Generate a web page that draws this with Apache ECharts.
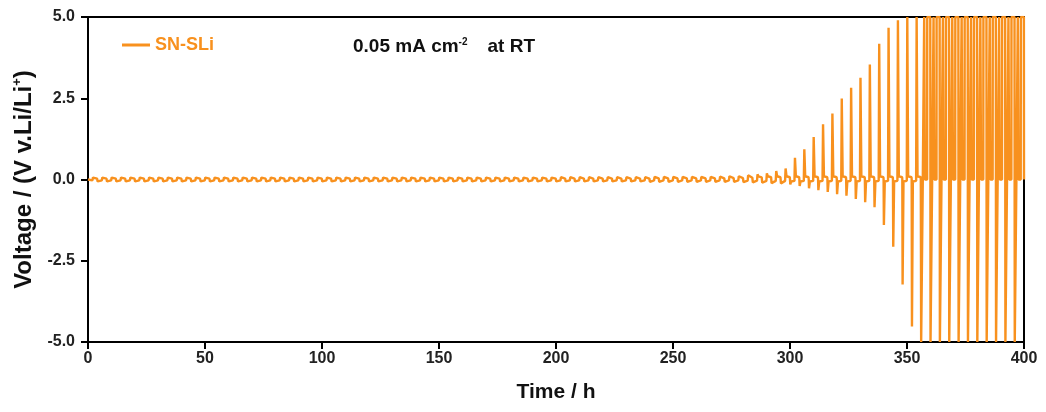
<!DOCTYPE html>
<html>
<head>
<meta charset="utf-8">
<script src="https://cdn.jsdelivr.net/npm/echarts@6/dist/echarts.min.js"></script>
<style>
html,body{margin:0;padding:0;background:#fff;}
#chart{width:1046px;height:412px;}
</style>
</head>
<body>
<div id="chart"></div>
<script>
// ---- data ----
const seriesName = 'SN-SLi';
const xTicks = [0, 50, 100, 150, 200, 250, 300, 350, 400];
const yTicks = [-5.0, -2.5, 0.0, 2.5, 5.0];
// start time (h) of each 4 h plating/stripping cycle
const cycleStart = [0,4,8,12,16,20,24,28,32,36,40,44,48,52,56,60,64,68,72,76,80,84,88,92,96,
  100,104,108,112,116,120,124,128,132,136,140,144,148,152,156,160,164,168,172,176,180,184,188,192,196,
  200,204,208,212,216,220,224,228,232,236,240,244,248,252,256,260,264,268,272,276,280,284,288,292,296,
  300,304,308,312,316,320,324,328,332,336,340,344,348,352,356,360,364,368,372,376,380,384,388,392,396];
// peak voltage of the negative step (at cycle start)
const negPeak = [-0.06,-0.06,-0.06,-0.06,-0.06,-0.06,-0.06,-0.06,-0.06,-0.06,-0.06,-0.06,-0.06,-0.06,-0.06,-0.06,-0.06,-0.06,-0.06,-0.06,-0.06,-0.06,-0.06,-0.06,-0.06,
  -0.06,-0.06,-0.06,-0.06,-0.06,-0.06,-0.06,-0.06,-0.06,-0.06,-0.06,-0.06,-0.06,-0.06,-0.06,-0.06,-0.06,-0.06,-0.06,-0.06,-0.06,-0.06,-0.06,-0.06,-0.06,
  -0.06,-0.06,-0.06,-0.06,-0.06,-0.06,-0.06,-0.06,-0.06,-0.06,-0.07,-0.07,-0.07,-0.07,-0.07,-0.07,-0.07,-0.07,-0.07,-0.07,-0.08,-0.09,-0.10,-0.11,-0.12,
  -0.15,-0.20,-0.27,-0.33,-0.38,-0.45,-0.50,-0.60,-0.70,-0.85,-1.40,-2.07,-3.23,-4.52,-5.0,-5.0,-5.0,-5.0,-5.0,-5.0,-5.0,-5.0,-5.0,-5.0,-5.0];
// peak voltage of the positive step (2 h after cycle start)
const posPeak = [0.06,0.06,0.06,0.06,0.06,0.06,0.06,0.06,0.06,0.06,0.06,0.06,0.06,0.06,0.06,0.06,0.06,0.06,0.06,0.06,0.06,0.06,0.06,0.06,0.06,
  0.06,0.06,0.06,0.06,0.06,0.06,0.06,0.06,0.06,0.06,0.06,0.06,0.06,0.06,0.06,0.06,0.06,0.06,0.06,0.06,0.06,0.06,0.06,0.06,0.06,
  0.07,0.07,0.07,0.07,0.07,0.07,0.07,0.07,0.07,0.07,0.08,0.08,0.08,0.08,0.08,0.08,0.08,0.09,0.10,0.10,0.13,0.16,0.19,0.26,0.34,
  0.67,0.93,1.31,1.70,2.03,2.49,2.82,3.13,3.54,4.18,4.67,4.90,5.0,5.0,5.0,5.0,5.0,5.0,5.0,5.0,5.0,5.0,5.0,5.0,5.0];

// ---- build the voltage trace from the per-cycle values ----
const trace = [[0, 0]];
for (let k = 0; k < cycleStart.length; k++) {
  const t0 = cycleStart[k], n = negPeak[k], p = posPeak[k];
  if (n <= -5) {
    trace.push([t0 + 0.05, n], [t0 + 0.7, n], [t0 + 0.75, 0], [t0 + 1.3, 0],
               [t0 + 1.35, p], [t0 + 1.6, p], [t0 + 1.65, 0], [t0 + 2.6, 0],
               [t0 + 2.65, p], [t0 + 3.95, p]);
  } else {
    const np = Math.max(n * 0.6, -0.06);
    const pp = Math.min(p * 0.6, 0.1);
    trace.push([t0, 0], [t0 + 0.12, n], [t0 + 0.5, np], [t0 + 1.9, np * 0.7],
               [t0 + 2, 0], [t0 + 2.12, p], [t0 + 2.5, pp], [t0 + 3.9, pp * 0.7]);
  }
}
trace.push([400, 0]);

const ORANGE = '#F8911E';
const FONT = 'Liberation Sans, Arial, sans-serif';

const chart = echarts.init(document.getElementById('chart'), null, {renderer: 'canvas'});
chart.setOption({
  animation: false,
  backgroundColor: '#fff',
  grid: {left: 88, right: 22, top: 17, bottom: 70, show: true, borderColor: '#000', borderWidth: 2, backgroundColor: 'transparent'},
  title: {
    text: '0.05 mA cm{sup|-2}{gap|}at RT',
    left: 348, top: 32,
    textStyle: {
      fontFamily: FONT, fontWeight: 'bold', fontSize: 19, color: '#111',
      rich: {
        sup: {fontFamily: FONT, fontWeight: 'bold', fontSize: 10, color: '#111', verticalAlign: 'top', lineHeight: 10, padding: [0, 0, 12, 0]},
        gap: {width: 20}
      }
    }
  },
  legend: {
    data: [{name: seriesName, icon: 'rect'}],
    left: 122, top: 36, padding: 0,
    itemWidth: 28, itemHeight: 3, itemGap: 6,
    textStyle: {fontFamily: FONT, fontWeight: 'bold', fontSize: 18, color: ORANGE}
  },
  xAxis: {
    type: 'value', min: xTicks[0], max: xTicks[xTicks.length - 1], interval: 50,
    name: 'Time / h', nameLocation: 'middle', nameGap: 40,
    nameTextStyle: {fontFamily: FONT, fontWeight: 'bold', fontSize: 21, color: '#111'},
    axisLine: {show: true, onZero: false, lineStyle: {color: '#000', width: 2}},
    axisTick: {show: true, length: 7, lineStyle: {color: '#000', width: 2}},
    axisLabel: {fontFamily: FONT, fontWeight: 'bold', fontSize: 16, color: '#222', margin: 9},
    splitLine: {show: false}
  },
  yAxis: {
    type: 'value', min: yTicks[0], max: yTicks[yTicks.length - 1], interval: 2.5,
    name: 'Voltage / (V v.Li/Li{sup|+})', nameLocation: 'middle', nameGap: 50,
    nameTextStyle: {fontFamily: FONT, fontWeight: 'bold', fontSize: 24, color: '#111',
      rich: {sup: {fontFamily: FONT, fontWeight: 'bold', fontSize: 13, color: '#111', verticalAlign: 'top', padding: [0, 0, 14, 0]}}},
    axisLine: {show: true, onZero: false, lineStyle: {color: '#000', width: 2}},
    axisTick: {show: true, length: 7, lineStyle: {color: '#000', width: 2}},
    axisLabel: {fontFamily: FONT, fontWeight: 'bold', fontSize: 16, color: '#222', margin: 13,
      formatter: v => v.toFixed(1)},
    splitLine: {show: false}
  },
  series: [{
    name: seriesName, type: 'line', data: trace,
    showSymbol: false, symbol: 'none', sampling: null, clip: true,
    itemStyle: {color: ORANGE},
    lineStyle: {color: ORANGE, width: 2.4}
  }]
});
</script>
</body>
</html>
